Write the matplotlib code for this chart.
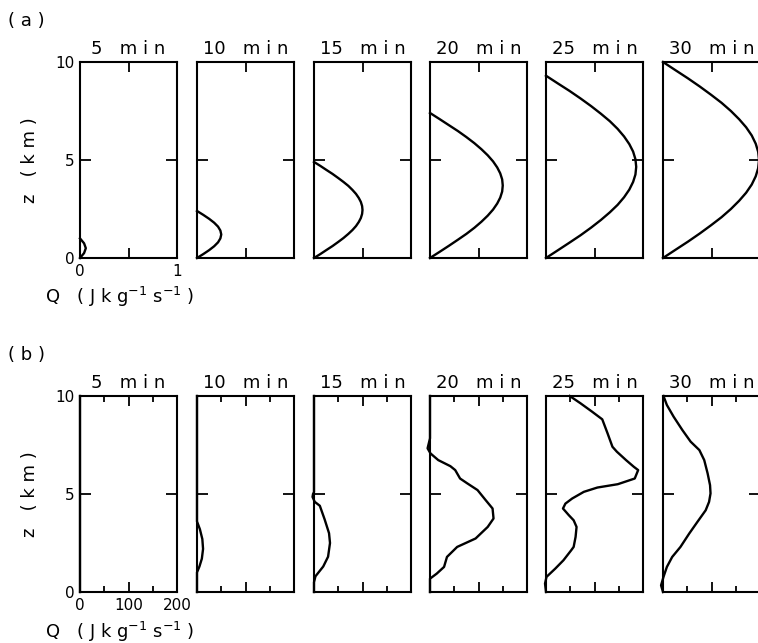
import matplotlib
matplotlib.use('Agg')
import matplotlib.pyplot as plt

plt.rcParams['font.family'] = ['DejaVu Sans']

times = [5, 10, 15, 20, 25, 30]

# (a) analytic heating profiles, Q in J/kg/s, z in km
a_z_05 = [0, 0.25, 0.5, 0.75, 1.0]
a_q_05 = [0, 0.042, 0.06, 0.042, 0]
a_z_10 = [0, 0.2, 0.4, 0.6, 0.8, 1.0, 1.2, 1.4, 1.6, 1.8, 2.0, 2.2, 2.4]
a_q_10 = [0, 0.065, 0.125, 0.177, 0.217, 0.241, 0.25, 0.241, 0.217, 0.177, 0.125, 0.065, 0]
a_z_15 = [0, 0.2, 0.41, 0.61, 0.82, 1.02, 1.23, 1.43, 1.63, 1.84, 2.04, 2.25, 2.45,
          2.65, 2.86, 3.06, 3.27, 3.47, 3.68, 3.88, 4.08, 4.29, 4.49, 4.7, 4.9]
a_q_15 = [0, 0.065, 0.129, 0.191, 0.25, 0.304, 0.354, 0.397, 0.433, 0.462, 0.483, 0.496, 0.5,
          0.496, 0.483, 0.462, 0.433, 0.397, 0.354, 0.304, 0.25, 0.191, 0.129, 0.065, 0]
a_z_20 = [0, 0.31, 0.62, 0.93, 1.23, 1.54, 1.85, 2.16, 2.47, 2.78, 3.08, 3.39, 3.7,
          4.01, 4.32, 4.62, 4.93, 5.24, 5.55, 5.86, 6.17, 6.48, 6.78, 7.09, 7.4]
a_q_20 = [0, 0.098, 0.194, 0.287, 0.375, 0.457, 0.53, 0.595, 0.65, 0.693, 0.724, 0.744, 0.75,
          0.744, 0.724, 0.693, 0.65, 0.595, 0.53, 0.457, 0.375, 0.287, 0.194, 0.098, 0]
a_z_25 = [0, 0.39, 0.78, 1.16, 1.55, 1.94, 2.33, 2.71, 3.1, 3.49, 3.88, 4.26, 4.65,
          5.04, 5.43, 5.81, 6.2, 6.59, 6.98, 7.36, 7.75, 8.14, 8.53, 8.91, 9.3]
a_q_25 = [0, 0.121, 0.241, 0.356, 0.465, 0.566, 0.658, 0.738, 0.805, 0.859, 0.898, 0.922, 0.93,
          0.922, 0.898, 0.859, 0.805, 0.738, 0.658, 0.566, 0.465, 0.356, 0.241, 0.121, 0]
a_z_30 = [0, 0.42, 0.83, 1.25, 1.67, 2.08, 2.5, 2.92, 3.33, 3.75, 4.17, 4.58, 5.0,
          5.42, 5.83, 6.25, 6.67, 7.08, 7.5, 7.92, 8.33, 8.75, 9.17, 9.58, 10]
a_q_30 = [0, 0.129, 0.256, 0.379, 0.495, 0.603, 0.7, 0.785, 0.857, 0.915, 0.956, 0.981, 0.99,
          0.981, 0.956, 0.915, 0.857, 0.785, 0.7, 0.603, 0.495, 0.379, 0.256, 0.129, 0]

# (b) model heating profiles
b_z_05 = [0, 10]
b_q_05 = [0, 0]
b_z_10 = [0, 1.0, 1.3, 1.7, 2.2, 2.7, 3.2, 3.6, 10]
b_q_10 = [0, 0, 5, 10, 12.5, 11, 6, 0, 0]
b_z_15 = [0, 0.5, 0.8, 1.3, 1.8, 2.5, 3.0, 3.7, 4.4, 4.6, 4.85, 5.0, 5.1, 10]
b_q_15 = [0, 0, 3, 19, 29, 33, 31, 22, 12, 1.5, -3, -2, 0, 0]
b_z_20 = [0, 0.68, 0.94, 1.28, 1.79, 2.3, 2.73, 3.32, 3.75, 4.26, 4.68, 5.2,
          5.54, 5.79, 6.22, 6.42, 6.73, 7.07, 7.33, 7.84, 10]
b_q_20 = [0, 0, 14, 29, 35, 56, 94, 119, 131, 129, 115, 98,
          77, 62, 52, 42, 17, 1, -5, 0, 0]
b_z_25 = [0, 0.43, 0.77, 1.19, 1.62, 2.13, 2.3, 2.81, 3.32, 3.66, 3.92, 4.26,
          4.51, 4.77, 5.11, 5.33, 5.5, 5.79, 6.22, 6.39, 6.73, 7.16, 7.41,
          8.09, 8.81, 9.2, 9.63, 10]
b_q_25 = [0, -2, 1, 19, 36, 52, 57, 61, 63, 57, 47, 35,
          40, 54, 78, 106, 148, 183, 190, 181, 165, 146, 137,
          127, 116, 95, 71, 49]
b_z_30 = [0, 0.34, 0.77, 1.28, 1.79, 2.3, 2.98, 3.58, 4.17, 4.6, 5.03, 5.45,
          6.05, 6.73, 7.24, 7.67, 8.26, 8.94, 9.54, 10]
b_q_30 = [0, -4, 1, 8, 19, 36, 54, 71, 88, 95, 98, 97,
          92, 85, 75, 57, 40, 22, 8, 1]

a_z = [a_z_05, a_z_10, a_z_15, a_z_20, a_z_25, a_z_30]
a_q = [a_q_05, a_q_10, a_q_15, a_q_20, a_q_25, a_q_30]
b_z = [b_z_05, b_z_10, b_z_15, b_z_20, b_z_25, b_z_30]
b_q = [b_q_05, b_q_10, b_q_15, b_q_20, b_q_25, b_q_30]

W, H = 758, 643
fig = plt.figure(figsize=(W / 100, H / 100), dpi=100)

lefts = [80, 197, 314, 430, 546, 663]
pw = 97


def add_panel(left, top, bottom):
    return fig.add_axes([left / W, 1 - bottom / H, pw / W, (bottom - top) / H])


def style(ax, first, xmax, maj, minr, labels):
    ax.set_xlim(0, xmax)
    ax.set_ylim(0, 10)
    ax.set_xticks(maj)
    ax.set_xticks(minr, minor=True)
    ax.set_yticks([0, 5, 10])
    ax.tick_params(which='both', direction='in', top=True, right=True,
                   width=1.3, labelsize=11, pad=4)
    ax.tick_params(axis='y', which='major', length=8)
    ax.tick_params(axis='x', which='major', length=7)
    ax.tick_params(axis='x', which='minor', length=4.5)
    for s in ax.spines.values():
        s.set_linewidth(1.5)
    if first:
        ax.set_xticklabels(labels)
        ax.set_yticklabels(['0', '5', '10'])
    else:
        ax.set_xticklabels([])
        ax.set_yticklabels([])


for row, (zs, qs, top, bottom) in enumerate([(a_z, a_q, 62, 258), (b_z, b_q, 396, 592)]):
    for i, t in enumerate(times):
        ax = add_panel(lefts[i], top, bottom)
        if row == 0:
            style(ax, i == 0, 1, [0, 0.5, 1], [], ['0', '', '1'])
        else:
            style(ax, i == 0, 200, [0, 100, 200], [50, 150], ['0', '100', '200'])
        ax.plot(qs[i], zs[i], color='black', lw=1.7, clip_on=False)
        ax.set_title(f'{t}   m i n', fontsize=13, pad=6)
        if i == 0:
            ax.set_ylabel('z   ( k m )', fontsize=13, labelpad=12)

fig.text(8 / W, 1 - 21 / H, '( a )', fontsize=13, va='center')
fig.text(8 / W, 1 - 355 / H, '( b )', fontsize=13, va='center')
fig.text(45 / W, 1 - 297 / H, 'Q   ( J k g$^{-1}$ s$^{-1}$ )', fontsize=13, va='center')
fig.text(45 / W, 1 - 632 / H, 'Q   ( J k g$^{-1}$ s$^{-1}$ )', fontsize=13, va='center')

fig.savefig('out.png', dpi=100)
